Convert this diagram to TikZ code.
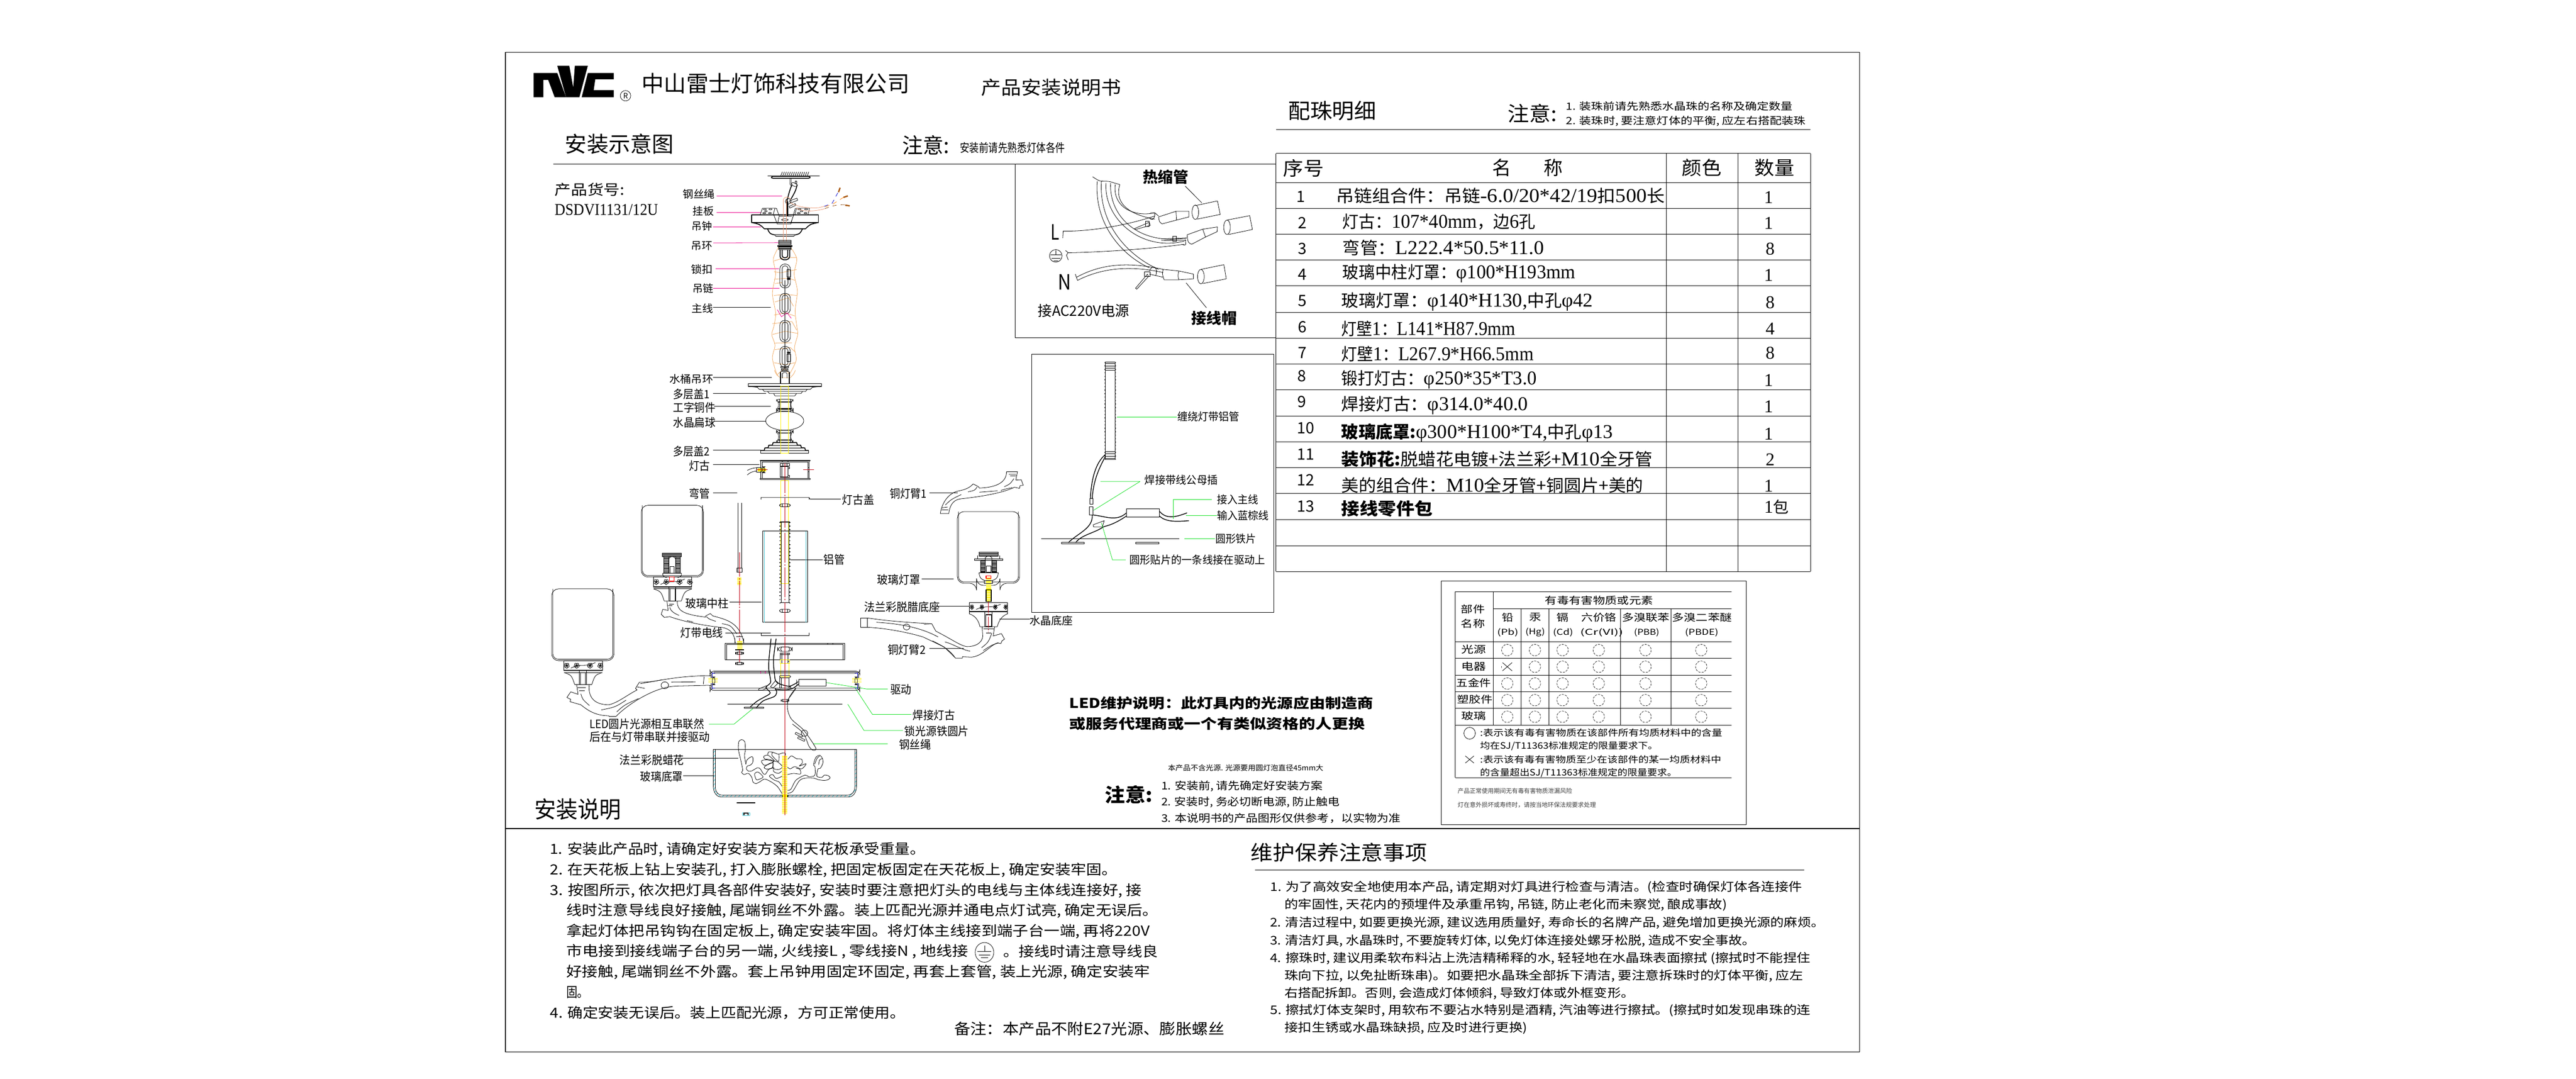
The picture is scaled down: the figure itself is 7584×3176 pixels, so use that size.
\documentclass[tikz,border=0pt]{standalone}
\usepackage{fontspec}
\usepackage{graphicx}
\usetikzlibrary{patterns}
\setmainfont{Noto Sans CJK SC}
\newfontfamily\ser[Scale=1.15]{Liberation Serif}
\definecolor{orgl}{HTML}{F0A860}
\definecolor{salm}{HTML}{EE9C78}
\definecolor{axisr}{HTML}{C00010}
\definecolor{grn}{HTML}{10E020}
\definecolor{hatchc}{HTML}{40C8D8}
\definecolor{brn}{HTML}{A85810}
\newlength\twd
\newcommand\tb[7][]{%
 \pgfmathsetlength\twd{((#4)-(#3))*\sx*0.25}%
 \pgfmathsetmacro\fsz{#6*0.25}%
 \node[txt,#1] (#2) at (#3,#5) {\resizebox{\twd}{\height}{\fontsize{\fsz pt}{\fsz pt}\selectfont #7}};}
\newcommand\tc[5]{%
 \pgfmathsetmacro\fsz{#4*0.25}%
 \node[txt,anchor=center] (#1) at (#2,#3) {\fontsize{\fsz pt}{\fsz pt}\selectfont #5};}
\newcommand\srf[1]{{\ser #1}}
\newcommand\stripes[5]{% x1 y1 x2 y2 step
 \fill[yellow] (#1,#2) rectangle (#3,#4);
 \pgfmathsetmacro\ysec{#2+#5}\pgfmathsetmacro\ysecb{#2+2*#5}
 \foreach \yy in {\ysec,\ysecb,...,#4} {\draw[white,line width=.2pt] (#1,\yy) -- (#3,\yy);}
}
\newcommand\nutz[4]{%
 \draw[rounded corners=1.5pt] (#1,#2) rectangle (#3,#4);
 \pgfmathsetmacro\xa{#1+(#3-#1)*.25}\pgfmathsetmacro\xb{#1+(#3-#1)*.75}
 \draw (\xa,#2) -- (\xa,#4) (\xb,#2) -- (\xb,#4);
}
\newcommand\hatchbox[5]{% horizontal hatching x1 y1 x2 y2 step
 \draw (#1,#2) rectangle (#3,#4);
 \pgfmathsetmacro\ysec{#2+#5}\pgfmathsetmacro\ysecb{#2+2*#5}
 \foreach \yy in {\ysec,\ysecb,...,#4} {\draw (#1,\yy) -- (#3,\yy);}
}
\newcommand\blossom[3]{% x y r
 \begin{scope}[shift={(#1,#2)}]
 \foreach \a in {18,90,162,234,306} {\draw (\a:#3) circle (#3*.62);}
 \draw[fill=white] (0,0) circle (#3*.35);
 \end{scope}
}
\newcommand\band[4]{% x1 y1 x2 y2 flowers and vine
 \draw (#1,#2) rectangle (#3,#4);
 \pgfmathsetmacro\bw{#3-#1}\pgfmathsetmacro\bh{#4-#2}
 \pgfmathsetmacro\ym{#2+.5*\bh}\pgfmathsetmacro\rr{.17*\bh}
 \foreach \f in {.07,.33,.68,.95}{\pgfmathsetmacro\fx{#1+\f*\bw}\blossom{\fx}{\ym}{\rr}}
 \pgfmathsetmacro\xa{#1+.18*\bw}\pgfmathsetmacro\xb{#1+.5*\bw}\pgfmathsetmacro\xc{#1+.82*\bw}
 \pgfmathsetmacro\ya{#2+.2*\bh}\pgfmathsetmacro\yb{#2+.75*\bh}
 \draw (\xa,\yb) .. controls (\xb,\ya) and (\xb,\yb) .. (\xc,\ya);
}
\tikzset{
 txt/.style={anchor=west,inner sep=0pt,outer sep=0pt},
 bd/.style={line width=.65pt},
 frm/.style={line width=.4pt},
 org/.style={orgl,line width=.3pt},
 sal/.style={salm,line width=.3pt},
 yl/.style={yellow,line width=.3pt},
 gr/.style={grn,line width=.3pt},
 mg/.style={magenta,line width=.3pt},
 lead/.style={black,line width=.3pt},
 rd/.style={axisr,line width=.3pt},
 rddash/.style={axisr,line width=.3pt,dash pattern=on 22pt off 1.2pt on 1.2pt off 1.2pt},
 dcirc/.style={line width=.25pt,dash pattern=on 1.6pt off .8pt},
}
\begin{document}
\begin{tikzpicture}[x=0.25pt,y=-0.25pt,line width=.3pt,line join=round]
\useasboundingbox (0,0) rectangle (7584,3176);
\fill[white] (0,0) rectangle (7584,3176);
% outer frame
\draw[frm] (1488,154) rectangle (5475,3097);
\draw[frm] (1488,2439) -- (5475,2439);
\draw (1629,483) -- (3756,483);

%==== zoom 1 ====
\begin{scope}[shift={(1480,130)},xscale=.9566,yscale=.6378]\def\sx{.9566}
 \fill (95,133)--(168,133)--(195,245)--(160,245)--(140,165)--(125,165)--(125,245)--(95,245)--cycle;
 \fill (168,100)--(205,100)--(217,200)--(222,100)--(262,100)--(236,245)--(195,245)--cycle;
 \fill (262,133)--(342,133)--(342,162)--(285,162)--(280,212)--(342,212)--(342,245)--(243,245)--cycle;
 \draw (378,238) ellipse (16 and 24);
 \tc{regm}{378}{238}{22}{R}
 \tb{co}{428}{1252}{182}{66}{中山雷士灯饰科技有限公司}
 \tb{ptit}{1473}{1904}{200}{55}{产品安装说明书}
 \tb{st1}{192}{527}{460}{64}{安装示意图}
 \tb{st2}{1230}{1375}{465}{62}{注意:}
 \tb{st3}{1407}{1731}{478}{35}{\mbox{安装前请先熟悉灯体各件}}
 \tb{pn1}{160}{375}{672}{42}{产品货号:}
 \tb{pn2}{160}{478}{765}{42}{\srf{DSDVI1131/12U}}
 \tb{a1}{555}{653}{692}{31}{钢丝绳}
 \tb{a2}{585}{650}{770}{31}{挂板}
 \tb{a3}{582}{645}{840}{31}{吊钟}
 \tb{a4}{580}{645}{932}{31}{吊环}
 \tb{a5}{580}{647}{1040}{31}{锁扣}
 \tb{a6}{584}{648}{1127}{31}{吊链}
 \tb{a7}{582}{648}{1220}{31}{主线}
 \tb{a8}{513}{648}{1545}{31}{水桶吊环}
 \draw[mg] (658,700) -- (860,700);
 \draw[mg] (658,778) -- (795,778);
 \draw[mg] (648,843) -- (795,843);
 \draw[mg] (648,917) -- (848,916);
 \draw[mg] (655,1035) -- (850,1035);
 \draw[mg] (648,1126) -- (852,1126);
 \draw[lead] (648,1215) -- (825,1215);
 \draw[lead] (648,1538) -- (828,1538);
 % crystal strand
 \draw[org] plot[smooth] coordinates {(850,935) (833,990) (840,1060) (830,1150) (840,1240) (835,1300) (828,1340) (838,1390) (830,1450) (845,1530)};
 \draw[org] plot[smooth] coordinates {(885,935) (905,990) (897,1060) (907,1140) (900,1230) (905,1300) (908,1340) (898,1400) (903,1460) (880,1530)};
 \draw[org] (835,1000)--(870,985)--(905,985) (835,1050)--(855,1055)--(905,1040) (835,1085)--(880,1080)--(900,1090)
  (838,1105)--(860,1100) (835,1160)--(870,1155)--(905,1160) (838,1190)--(880,1170)--(895,1210)
  (835,1250)--(870,1240)--(900,1255) (830,1290)--(890,1280)--(905,1320) (830,1340)--(870,1325)--(908,1335)
  (835,1380)--(890,1378) (838,1410)--(885,1400)--(900,1420) (835,1470)--(870,1480)--(900,1470)
  (845,1525)--(868,1495)--(885,1530);
 % chain
 \foreach \ya/\yb in {1015/1125,1150/1245,1275/1375,1395/1490}{
  \draw[rounded corners=3.5pt] (853,\ya) rectangle (885,\yb);
  \draw[rounded corners=2pt] (860,\ya+8) rectangle (878,\yb-8);
 }
 \draw (869,1090) -- (869,1500);
 \draw (875,1040) rectangle (885,1075) (875,1430) rectangle (885,1465);
 \fill (875,1078) rectangle (885,1088) (875,1420) rectangle (885,1428);
 \draw[mg] (845,1225)--(858,1258)--(875,1240)--(888,1265);
 \draw (855,1487) rectangle (880,1493) (858,1497) rectangle (878,1503);
\end{scope}

%==== ceiling fitting (zoom 11) ====
\begin{scope}[shift={(2200,500)},scale=.3333]
 \foreach \x in {310,328,...,545}{\draw (\x,18) -- (\x-14,52);}
 \draw (180,55) -- (640,55);
 \draw[bd,rounded corners=1pt] (214,58) rectangle (554,74);
 \draw (377,74)--(377,125)--(395,150) (388,74)--(388,122)--(398,135);
 \draw (425,100) rectangle (437,122);
 \draw[bd] (395,130) .. controls (375,180) .. (352,270);
 \draw[bd] (442,130) .. controls (425,190) .. (385,260);
 \draw[rotate around={-25:(415,130)}] (415,130) ellipse (28 and 14);
 \draw[bd] (352,270) -- (350,410) (358,280) -- (357,410);
 \draw (362,278) circle (25);
 \draw[rotate around={20:(400,275)}] (375,265) rectangle (445,285);
 \draw[rotate around={25:(395,320)}] (370,312) rectangle (430,328);
 \draw (135,338)--(245,338)--(228,398)--(113,398)--cycle;
 \draw (435,338)--(550,338)--(537,398)--(420,398)--cycle;
 \foreach \cx in {155,205}{\draw (\cx,348) ellipse (14 and 5) (\cx-5,382) ellipse (14 and 5);}
 \foreach \cx in {460,520}{\draw (\cx,348) ellipse (14 and 5) (\cx-5,382) ellipse (14 and 5);}
 \draw (165,365) ellipse (12 and 5) (480,365) ellipse (12 and 5);
 \draw[bd] (38,397) rectangle (628,465);
 \draw (245,338)--(258,340)--(282,408)--(270,465) (235,400)--(265,478)--(385,478)--(425,338) (270,468)--(390,468) (410,398)--(385,468);
 \draw (282,408)--(395,408);
 \draw (332,441) ellipse (30 and 8);
 \draw[bd] (38,465) .. controls (110,480) .. (150,520) -- (515,520) .. controls (555,480) .. (628,465);
 \draw[bd] (180,523) .. controls (200,565) .. (245,575) (487,523) .. controls (465,565) .. (420,575);
 \draw (245,573)--(420,573)--(412,587)--(252,587)--cycle;
 \draw[sal] (319,632) -- (319,265) .. controls (325,235) and (365,230) .. (385,262);
 \draw[sal] (346,632) -- (346,265);
 \draw[sal] (380,290) .. controls (440,325) and (520,340) .. (630,335) -- (680,322);
 \draw[sal] (430,335) .. controls (470,365) and (560,375) .. (680,345);
 \draw[blue!80!black,dashed] (680,322) -- (750,295) -- (803,197);
 \draw[orange,dashed] (690,325) -- (760,300) -- (850,243);
 \draw[brn!80!black,dashed] (685,342) .. controls (780,310) .. (865,307);
 \draw[brn,line width=1pt] (806,197)--(820,158) (850,243)--(888,230) (865,312)--(905,318);
 \hatchbox{277}{622}{388}{660}{9}
 \fill (265,666) rectangle (400,682);
 \hatchbox{277}{682}{388}{705}{7}
 \draw[bd] (290,705) -- (290,765) .. controls (295,805) and (370,805) .. (375,765) -- (375,705);
 \draw[bd] (308,705) -- (308,755) .. controls (312,785) and (353,785) .. (358,755) -- (358,705);
\end{scope}

%==== lid stack and small hub (zoom 12) ====
\begin{scope}[shift={(2200,1090)},scale=.3333]
 \draw[org] (240,0) .. controls (255,35) .. (290,65) -- (380,65) .. controls (410,35) .. (425,0);
 \draw[bd] (295,15)--(295,115) (370,15)--(370,115);
 \draw (310,70)--(310,30) .. controls (315,15) and (347,15) .. (352,30) -- (352,70);
 \draw (295,10)--(370,10) (300,3)--(362,3);
 \draw[bd] (10,118) rectangle (655,142);
 \draw (40,145)--(90,150)--(105,168)--(558,168)--(575,150)--(625,145);
 \draw (135,168)--(150,187)--(515,187)--(530,168);
 \draw (180,187)--(195,205)--(475,205)--(488,187);
 \draw (233,205)--(245,226)--(420,226)--(435,205);
 % upper spool
 \draw[rounded corners=1.5pt] (260,256) rectangle (404,276);
 \draw (270,276) .. controls (280,305) .. (268,338) (392,276) .. controls (382,305) .. (395,338);
 \draw (270,282)--(392,282) (285,256)--(285,364) (380,256)--(380,364);
 \draw[bd] (268,339)--(395,339);
 \draw[rounded corners=2pt] (258,345) rectangle (405,360);
 \draw (331,446) ellipse (168 and 83);
 % lower spool
 \draw[rounded corners=2pt] (258,531) rectangle (405,552);
 \draw[bd] (268,555)--(392,555);
 \draw (270,558) .. controls (282,590) .. (268,618) (392,558) .. controls (380,590) .. (395,618);
 \draw (285,530)--(285,638) (380,530)--(380,638) (270,612)--(392,612);
 \draw[rounded corners=1.5pt] (260,618) rectangle (404,638);
 \draw[bd] (228,638)--(437,638) (228,638)--(222,660)--(190,662)--(185,683)--(155,686)--(150,708)--(120,708)
  (437,638)--(442,660)--(472,662)--(478,683)--(508,686)--(515,708)--(542,708);
 \draw (190,662)--(472,662) (155,685)--(508,685);
 \draw (120,708) rectangle (542,730);
 \draw[yl] (297,138) rectangle (365,730);
 % lamp hub
 \draw (113,794)--(553,794)--(553,800)--(113,800)--cycle;
 \draw (113,955)--(553,955)--(553,962)--(113,962)--cycle;
 \draw (118,800)--(118,955) (548,800)--(548,955);
 \draw (130,811) rectangle (536,955);
 \draw (307,800) rectangle (358,811);
 \draw (292,823) rectangle (373,846) (315,823)--(315,846) (350,823)--(350,846);
 \draw (292,850) rectangle (360,945);
 \draw[bd] (292,850)--(360,850) (292,943)--(360,943) (305,850)--(305,945);
 \draw (360,853) rectangle (373,868) (360,928) rectangle (373,945);
 \fill[yellow] (92,865) rectangle (165,893);
 \draw (82,857) rectangle (122,900);
 \draw[rounded corners=2pt] (135,852) rectangle (155,905);
 \draw[axisr,line width=.4pt] (78,877)--(180,877) (495,877)--(588,877);
 \draw (536,857)--(548,857) (536,897)--(548,897);
 \draw (82,860) .. controls (40,865) and (15,875) .. (0,885);
 \draw (82,890) .. controls (45,893) and (20,905) .. (0,925);
\end{scope}

%==== zoom 2: labels and centre parts ====
\begin{scope}[shift={(1480,1100)},xscale=.9566,yscale=.861]\def\sx{.9566}
 \tb{b1}{525}{638}{70}{34}{多层盖1}
 \tb{b2}{525}{655}{115}{34}{工字铜件}
 \tb{b3}{525}{655}{167}{34}{水晶扁球}
 \tb{b4}{525}{638}{265}{34}{多层盖2}
 \tb{b5}{573}{638}{315}{34}{灯古}
 \tb{b6}{573}{638}{410}{34}{弯管}
 \tb{b7}{1045}{1143}{432}{34}{灯古盖}
 \tb{b8}{988}{1053}{635}{34}{铝管}
 \tb{b9}{562}{695}{785}{34}{玻璃中柱}
 \tb{b10}{547}{678}{885}{34}{灯带电线}
 \tb{b11}{1192}{1305}{410}{34}{铜灯臂1}
 \tb{b12}{1152}{1285}{705}{34}{玻璃灯罩}
 \tb{b13}{1112}{1345}{797}{34}{法兰彩脱腊底座}
 \tb{b14}{1185}{1302}{943}{34}{铜灯臂2}
 \tb{b15}{1193}{1258}{1080}{34}{驱动}
 \tb{b16}{1262}{1392}{1168}{34}{焊接灯古}
 \tb{b17}{1237}{1435}{1222}{34}{锁光源铁圆片}
 \tb{b18}{1220}{1318}{1268}{34}{钢丝绳}
 \tb{b19}{267}{620}{1198}{34}{LED圆片光源相互串联然}
 \tb{b20}{267}{638}{1241}{34}{后在与灯带串联并接驱动}
 \tb{b21}{360}{558}{1320}{34}{法兰彩脱蜡花}
 \tb{b22}{423}{555}{1378}{34}{玻璃底罩}
 \tb{b23}{98}{365}{1490}{68}{安装说明}
 \draw[lead] (648,67)--(810,67) (650,112)--(825,112) (650,163)--(810,163) (648,261)--(795,261)
  (648,311)--(790,311) (648,408)--(722,408) (945,428)--(1040,428) (885,636)--(985,636)
  (698,780)--(797,780) (685,886)--(825,886) (1313,408)--(1400,408) (1290,701)--(1388,701)
  (1335,795)--(1437,795) (1313,940)--(1420,940) (530,1315)--(725,1315) (555,1374)--(650,1374);
 \draw[gr] (995,1056)--(1120,1078)--(1185,1078);
 \draw[gr] (1085,1075)--(1138,1165)--(1258,1165);
 \draw[gr] (1062,1130)--(1112,1220)--(1232,1220);
 \draw[gr] (955,1266)--(1185,1266);
 \draw[gr] (770,1145)--(712,1198)--(635,1198);
 % arm 2 left part of the right lamp
 \draw (1102,835)--(1102,867)--(1122,867)--(1122,835)--(1102,835);
 \draw (1122,835) .. controls (1180,845) and (1240,850) .. (1320,855);
 \draw (1122,867) .. controls (1180,870) and (1250,885) .. (1296,901);
 \draw (1243,866) circle (10);
 \draw (1150,850) .. controls (1230,855) and (1290,870) .. (1340,900);
 % yellow tube and axis pieces
 \draw[yl] (856,365) rectangle (880,718);
 % lid
 \draw (795,430)--(795,423)--(943,423)--(943,430) (943,423)--(945,428);
 \nutz{852}{445}{885}{455}
 % glass column
 \draw (800,538) rectangle (938,850);
 \draw[hatchc] (805,538)--(805,850) (934,538)--(934,850);
 \draw[line width=.4pt] (857,507)--(857,783) (881,507)--(881,783) (854,507)--(884,507) (854,783)--(884,783);
 \draw[line width=.7pt,dotted] (854,507)--(854,783) (884,507)--(884,783);
 \nutz{852}{805}{885}{816}
 \draw (795,885)--(795,896)--(943,896)--(943,885);
\end{scope}

%==== bent tube, left lamps (zoom 9) ====
\begin{scope}[shift={(1600,1480)},scale=.4592]
 % bent tube lower part
 \draw (1246,0)--(1246,420) (1270,0)--(1270,420);
 \draw (1240,420) rectangle (1274,445) (1246,420)--(1246,445);
 \stripes{1244}{480}{1270}{528}{8}
 \draw[axisr,line width=.3pt,dash pattern=on 18pt off 1pt on 1pt off 1pt] (1258,318)--(1258,1020);
 \foreach \dx/\dy in {0/0,574/-536}{
 \begin{scope}[shift={(\dx,\dy)}]
  \draw[rounded corners=5pt] (53,552)--(452,552)--(452,1012)--(53,1012)--cycle;
  \draw[rounded corners=4pt] (60,552)--(60,1003)--(445,1003)--(445,552);
  \band{132}{1012}{377}{1075}
  \draw (132,1088)--(377,1088);
  \draw[bd] (132,1075)--(377,1075);
  \draw (132,1088) .. controls (180,1105) .. (200,1165) -- (310,1165) .. controls (330,1105) .. (377,1088);
  \draw (230,1075) rectangle (275,1165) (236,1088) rectangle (270,1165);
 \end{scope}}
 % socket of upper lamp
 \hatchbox{763}{322}{885}{345}{5}
 \hatchbox{770}{345}{803}{450}{6}
 \hatchbox{847}{345}{878}{450}{6}
 \draw (803,450)--(803,360) .. controls (815,340) and (835,340) .. (847,360) -- (847,450);
 \draw (812,410) rectangle (838,450);
 \draw (765,452) .. controls (765,470) .. (790,480) (885,452) .. controls (885,470) .. (860,480) (765,452)--(885,452);
 \draw[red,line width=.5pt] (808,475) rectangle (838,503);
 % arm of upper lamp
 \draw (858,632) .. controls (858,690) and (890,715) .. (1040,733) -- (1040,725) -- (1070,710) -- (1085,725) .. controls (1180,750) and (1260,770) .. (1285,900);
 \draw (792,632)--(795,660)--(800,690)--(765,683)--(755,715)--(775,735)--(810,730) .. controls (880,755) and (1000,785) .. (1150,800) .. controls (1200,810) and (1225,840) .. (1230,900);
 \draw (810,670) .. controls (815,695) and (840,710) .. (870,722);
 \draw (920,755)--(960,765);
 \draw (1045,730) .. controls (1060,745) .. (1105,760);
 \draw (1145,775) .. controls (1200,785) .. (1240,840);
 \draw (1235,858)--(1280,858) (805,650)--(835,650) (800,660)--(825,660);
 \stripes{1241}{885}{1274}{945}{7}
 \draw[bd] (1230,942)--(1284,942);
 \nutz{1231}{957}{1283}{972}
 \nutz{1231}{1023}{1283}{1038}
 % arm of lower lamp
 \draw (293,1168) .. controls (285,1260) and (340,1295) .. (420,1295) .. controls (480,1280) and (540,1230) .. (600,1200) -- (590,1190) -- (615,1150) .. controls (720,1155) and (800,1112) .. (1060,1108) -- (1075,1108);
 \draw (213,1168)--(222,1228)--(175,1212)--(150,1248)--(175,1260)--(170,1275)--(240,1295) .. controls (300,1345) and (350,1365) .. (420,1365) -- (420,1370) -- (465,1370) .. controls (520,1310) and (700,1180) .. (850,1175) -- (1060,1170);
 \draw (240,1225) .. controls (250,1260) .. (295,1300);
 \draw (218,1185)--(270,1185) (228,1205)--(265,1205);
 \draw (370,1328) .. controls (460,1310) .. (530,1265);
 \draw (470,1340) .. controls (520,1295) .. (610,1255);
 \draw (778,1170) ellipse (24 and 22);
 \draw (820,1150)--(975,1148) (600,1180)--(650,1190) (1030,1115)--(1025,1165) (620,1160)--(760,1135);
 \draw (1060,1108)--(1075,1108)--(1075,1170)--(1060,1170);
\end{scope}

%==== centre column lower part (zoom 10) ====
\begin{scope}[shift={(2080,1880)},scale=.3333]
 \draw (250,0)--(250,40) (328,0)--(328,40);
 \draw (166,41) rectangle (1220,187);
 \draw (178,187)--(178,52)--(1208,52)--(1208,187);
 \draw (1072,41) rectangle (1117,52);
 \draw[rounded corners=3pt] (628,73) rectangle (757,112);
 \draw (665,73)--(655,92)--(665,112) (725,73)--(735,92)--(725,112);
 \draw (653,125) rectangle (733,140) (653,140) rectangle (720,217) (720,200) rectangle (733,217);
 \draw[bd] (665,125)--(665,217) (720,125)--(720,217);
 \draw[yl] (653,187) rectangle (733,217);
 \draw[yl] (655,218)--(655,335)--(730,335)--(730,218);
 \nutz{256}{118}{326}{138}
 \nutz{256}{209}{326}{229}
 \draw[axisr] (292,138)--(292,209);
 % ring
 \draw[rounded corners=3pt] (30,287) rectangle (1355,307);
 \draw (64,295)--(1333,295);
 \draw[rounded corners=3pt] (30,436) rectangle (1355,457);
 \draw (40,307)--(40,436) (1345,307)--(1345,436);
 \draw[blue!70!black,line width=.4pt] (52,300)--(52,445) (52,305)--(75,305) (52,438)--(75,438)
   (1333,300)--(1333,445) (1310,305)--(1333,305) (1310,438)--(1333,438);
 \draw[magenta] (477,288)--(477,308) (518,288)--(518,308);
 \stripes{15}{348}{100}{395}{6}
 \stripes{1285}{348}{1370}{395}{6}
 \draw[rounded corners=2pt] (52,338) rectangle (75,407) (1310,338) rectangle (1333,407);
 \draw[rounded corners=1pt] (645,325) rectangle (742,345);
 \draw (645,345) rectangle (730,436) (660,345)--(660,436) (730,422) rectangle (742,436);
 \draw (814,358) rectangle (1055,418);
 % clips
 \draw (460,445)--(530,415)--(530,440)--(495,455)--(460,455)--cycle;
 \draw (565,425)--(610,370)--(635,390)--(590,435)--cycle;
 % wires
 \draw[line width=.55pt] plot[smooth] coordinates {(570,0) (552,180) (550,270) (562,340) (565,390) (525,430) (555,465) (555,490) (450,550) (385,605)};
 \draw[line width=.55pt] plot[smooth] coordinates {(615,0) (592,180) (600,310) (620,385) (730,420) (810,380)};
 \draw[line width=.55pt] plot[smooth] coordinates {(605,440) (620,470) (600,510) (500,550) (440,610)};
 \draw[line width=.55pt] plot[smooth] coordinates {(605,445) (690,452) (760,440) (815,400)};
 \draw (795,362)--(800,420);
 \draw plot[smooth] coordinates {(790,440) (740,510) (720,540) (715,620) (750,710) (860,810) (965,965) (940,985) (905,950) (870,860) (830,810) (760,755)};
 \draw plot[smooth] coordinates {(785,440) (735,510) (715,570)};
 \draw (865,835) circle (28);
 \draw[rotate around={-25:(815,848)}] (783,840) rectangle (850,856);
 \draw[rotate around={-25:(835,885)}] (805,877) rectangle (870,893);
 \nutz{658}{536}{728}{556}
 \draw[line width=.7pt] (185,578)--(1200,578);
 \draw (333,606) rectangle (506,614);
 % bowl
 \path[pattern=north east lines,pattern color=hatchc]
   (60,976)--(60,1300) .. controls (60,1360) and (90,1398) .. (130,1398)--(1255,1398) .. controls (1295,1398) and (1325,1360) .. (1325,1300)--(1325,976)--(1310,976)--(1310,1310) .. controls (1310,1350) and (1285,1382) .. (1245,1382)--(140,1382) .. controls (100,1382) and (78,1350) .. (78,1310)--(78,976)--cycle;
 \draw (60,976)--(1325,976);
 \draw (60,976)--(60,1300) .. controls (60,1360) and (90,1398) .. (130,1398)--(1255,1398) .. controls (1295,1398) and (1325,1360) .. (1325,1300)--(1325,976);
 \draw (78,976)--(78,1310) .. controls (78,1350) and (100,1382) .. (140,1382)--(1245,1382) .. controls (1285,1382) and (1310,1350) .. (1310,1310)--(1310,976);
 % flower
 \draw plot[smooth] coordinates {(348,1110) (335,1030) (343,990) (338,910) (310,892) (285,910) (282,980) (300,1060) (315,1130) (320,1165) (310,1180) (330,1200) (370,1190) (400,1225) (410,1265) (435,1280) (470,1265) (515,1240) (580,1270) (630,1310) (668,1370)};
 \draw plot[smooth] coordinates {(348,1110) (355,1075) (385,1048) (408,1045) (408,1095) (385,1118) (360,1125) (352,1150) (370,1170) (400,1168) (450,1140) (475,1150) (500,1190) (520,1198) (550,1155) (600,1140)};
 \draw plot[smooth cycle] coordinates {(505,1040) (545,1030) (600,1080) (560,1068) (515,1062)};
 \draw plot[smooth cycle] coordinates {(485,1080) (530,1070) (590,1085) (560,1105) (510,1118)};
 \draw plot[smooth cycle] coordinates {(510,1135) (560,1100) (590,1100) (580,1140) (530,1152)};
 \draw plot[smooth cycle] coordinates {(590,1145) (640,1155) (670,1130) (630,1090) (590,1085)};
 \draw plot[smooth] coordinates {(590,1150) (595,1175) (635,1190) (665,1170)};
 \draw plot[smooth] coordinates {(540,1025) (550,1000) (585,1003) (635,1020) (670,1010) (695,1010) (698,1030)};
 \draw plot[smooth] coordinates {(585,1005) (578,1030) (635,1085) (640,1020)};
 \draw plot[smooth] coordinates {(720,1065) (750,1035) (795,1060) (840,1065) (845,1100) (820,1125) (880,1105) (840,1150) (780,1130) (740,1150) (715,1135)};
 \draw plot[smooth] coordinates {(715,1200) (770,1190) (830,1195) (825,1155) (790,1145)};
 \draw plot[smooth] coordinates {(668,1215) (615,1235) (585,1200) (555,1215) (600,1250) (640,1265) (668,1305)};
 \draw plot[smooth cycle] coordinates {(425,1195) (455,1178) (500,1220) (470,1240) (440,1245)};
 \draw plot[smooth] coordinates {(715,1340) (745,1330) (790,1250) (870,1205) (900,1218) (945,1215) (960,1195) (958,1130) (945,1115) (965,1050) (1000,1030) (1025,1060) (1028,1100) (1005,1145) (985,1150) (975,1215) (1020,1225) (1040,1205) (1075,1210) (1092,1228) (1075,1245) (1040,1252) (985,1245) (950,1232) (870,1232) (820,1255) (760,1350) (716,1365)};
 \draw plot[smooth] coordinates {(955,1110) (975,1060) (1000,1035)};
 \draw plot[smooth] coordinates {(990,1115) (1000,1070) (1025,1060)};
 % long screw
 \stripes{668}{1035}{714}{1545}{12}
 \fill[yellow] (668,1382) rectangle (716,1398);
 \draw[bd] (670,1382)--(670,1398) (716,1382)--(716,1398);
 \draw[axisr,line width=.35pt] (691,0)--(691,1560);
 \draw[line width=.8pt] (265,1451)--(433,1451);
 \draw[hatchc] (318,1540) rectangle (382,1560);
 \draw[bd] (332,1560)--(332,1540)--(368,1540)--(368,1560);
\end{scope}
\draw[rddash] (2310.5,1363)--(2310.5,1880);

%==== right lamp (zoom 8) ====
\begin{scope}[shift={(2720,1360)},xscale=.3333,yscale=.408]
 \draw (730,70)--(827,70)--(812,130)--(860,128)--(878,168)--(850,170)--(845,190)--(800,182) .. controls (680,230) and (450,255) .. (330,265) .. controls (270,270) and (230,300) .. (220,372)--(145,372) .. controls (160,290) and (220,225) .. (300,210) .. controls (360,200) and (400,190) .. (435,158)--(482,178)--(490,188) .. controls (580,185) and (730,170) .. (730,70);
 \draw (710,178) .. controls (760,160) .. (795,120);
 \draw (680,205) .. controls (720,195) .. (780,185);
 \draw (490,218)--(650,208);
 \draw (390,215) .. controls (450,205) .. (470,180);
 \draw (190,310) .. controls (240,270) .. (330,235);
 \draw (750,88)--(815,88) (762,100)--(815,100) (158,345)--(215,345) (160,330)--(210,325);
 \draw[rounded corners=5pt] (295,358)--(845,358)--(845,875)--(672,875)--(672,890)--(465,890)--(465,875)--(295,875)--cycle;
 \draw[rounded corners=4pt] (305,358)--(305,865)--(835,865)--(835,358);
 \stripes{550}{835}{595}{918}{12}
 \stripes{548}{922}{596}{1007}{12}
 \draw[bd] (548,922) rectangle (596,1007);
 \draw[red,line width=.5pt] (550,822) rectangle (592,840);
 \hatchbox{487}{650}{657}{680}{6}
 \draw (445,698) rectangle (697,708);
 \draw (475,698)--(475,675) (668,698)--(668,675);
 \hatchbox{499}{708}{542}{795}{6}
 \hatchbox{600}{708}{642}{795}{6}
 \draw (542,795)--(542,690) .. controls (560,675) and (585,675) .. (600,690)--(600,795);
 \draw (553,750) rectangle (590,795);
 \draw (487,797)--(657,797);
 \draw (487,797) .. controls (490,835) and (510,850) .. (540,855)--(600,855) .. controls (635,850) and (655,835) .. (657,797);
 \draw (535,855) rectangle (608,875);
 \band{400}{1013}{740}{1080}
 \draw[bd] (400,1080)--(740,1080);
 \draw (400,1095) .. controls (460,1110) and (485,1150) .. (495,1188)--(648,1188) .. controls (660,1150) and (685,1110) .. (740,1095);
 \draw (400,1080)--(400,1095) (740,1080)--(740,1095);
 \draw (538,1080) rectangle (602,1188);
 \draw[bd] (547,1103) rectangle (597,1188);
 \draw[axisr,dash pattern=on 8pt off 1pt on 1pt off 1pt] (571,1007)--(571,1228);
 % arm 2
 \draw (515,1188)--(520,1260) .. controls (510,1310) and (450,1332) .. (380,1332) .. controls (320,1325) and (250,1280) .. (105,1220)--(70,1167)--(0,1170);
 \draw (625,1188)--(612,1255)--(685,1238)--(712,1278)--(690,1290)--(680,1310)--(650,1305) .. controls (590,1320) and (520,1400) .. (420,1408)--(340,1405)--(340,1415)--(280,1415)--(180,1335)--(0,1265);
 \draw (510,1340) .. controls (570,1300) .. (600,1235);
 \draw (185,1298) .. controls (250,1310) and (320,1350) .. (408,1365);
 \draw (525,1360) .. controls (600,1320) .. (660,1305);
 \draw (75,1290) .. controls (150,1320) and (220,1350) .. (270,1405);
 \draw (528,1205)--(620,1205) (550,1232)--(595,1232);
\end{scope}

%==== wiring boxes (zoom 3) ====
\begin{scope}[shift={(2950,400)},xscale=.5421,yscale=.9247]\def\sx{.5421}
 \draw (71,90) rectangle (1488,643);
 \tb{c1}{765}{1012}{130}{44}{\bfseries 热缩管}
 \tb{c2}{1028}{1275}{580}{44}{\bfseries 接线帽}
 \tb{c3}{195}{692}{557}{42}{接AC220V电源}
 \tb{c4}{265}{312}{307}{62}{L}
 \tb{c5}{305}{377}{465}{62}{N}
 \draw[lead] (995,160)--(1085,213) (1000,468)--(1110,547);
 \draw (292,382) ellipse (34 and 20);
 \draw (292,365)--(292,378) (262,378)--(322,378) (268,390)--(316,390) (280,398)--(304,398);
 \draw plot[smooth] coordinates {(492,130) (530,143) (580,145) (610,150) (640,155)};
 \draw (517,145) .. controls (500,280) and (650,380) .. (800,420);
 \draw (540,145) .. controls (525,280) and (680,380) .. (850,425);
 \draw (565,150) .. controls (550,260) and (750,370) .. (990,335);
 \draw (590,150) .. controls (580,260) and (750,350) .. (1005,325);
 \draw (615,155) .. controls (600,220) and (700,260) .. (830,245);
 \draw (640,155) .. controls (610,210) and (680,250) .. (830,265);
 \draw (330,325)--(332,303) .. controls (450,305) and (650,290) .. (830,255);
 \draw (345,365)--(360,372) .. controls (550,370) and (800,360) .. (990,345);
 \draw (360,395)--(350,380)--(358,372);
 \draw (398,440)--(410,460) .. controls (560,415) and (720,415) .. (875,435);
 \draw (405,450) .. controls (560,400) and (720,405) .. (875,425);
 \draw (850,258)--(945,240)--(948,268)--(870,280) .. controls (855,275) .. (850,258);
 \draw (945,240)--(1015,240)--(1015,258)--(948,268);
 \draw (830,245) .. controls (830,270) and (810,270) .. (800,260) (805,245)--(830,245)--(850,255);
 \draw (720,295)--(800,275)--(805,285)--(725,298)--cycle;
 \draw (780,272) rectangle (800,288);
 \draw (1005,315)--(1090,297)--(1170,290)--(1168,305)--(1105,322)--(1030,345) .. controls (1010,340) .. (1005,315);
 \draw (1090,297) .. controls (1100,310) .. (1105,322);
 \draw (865,328)--(1000,325) (865,333)--(1000,332);
 \draw (928,320) rectangle (948,336);
 \draw (975,345) .. controls (1000,350) .. (995,330);
 \draw (875,425)--(960,430)--(1040,440)--(1040,455)--(960,458)--(880,458) .. controls (870,440) .. (875,425);
 \draw (960,430) .. controls (955,445) .. (960,458);
 \draw (725,485)--(790,440)--(795,448)--(732,488)--cycle;
 \draw (775,432) rectangle (805,448);
 \draw (800,430) .. controls (820,405) and (850,420) .. (835,445) (800,440)--(875,450);
 \draw (1050,222)--(1170,207)--(1185,250)--(1060,265) (1050,243) ellipse (18 and 23);
 \draw (1222,268)--(1345,254)--(1360,298)--(1230,314) (1222,291) ellipse (18 and 23);
 \draw (1080,425)--(1205,410)--(1218,455)--(1090,470) (1080,448) ellipse (18 and 23);
 % second box
 \draw (160,695) rectangle (1475,1517);
 \draw (560,720) rectangle (615,1030);
 \draw[line width=.55pt,dotted] (558,720)--(558,1030) (617,720)--(617,1030);
 \foreach \yy in {725,732,739,746}{\draw (560,\yy)--(615,\yy);}
 \foreach \yy in {1005,1012,1019,1026}{\draw (560,\yy)--(615,\yy);}
 \draw[line width=.55pt] (560,1015) .. controls (510,1040) and (485,1090) .. (480,1155);
 \draw[line width=.55pt] (560,1022) .. controls (525,1060) and (495,1100) .. (490,1155);
 \draw (478,1155) rectangle (493,1172);
 \draw (475,1180) rectangle (495,1207);
 \draw (676,1187) rectangle (855,1213);
 \draw[line width=.55pt] (855,1195) .. controls (890,1220) and (940,1215) .. (1005,1200);
 \draw[line width=.55pt] (855,1210) .. controls (890,1230) and (950,1228) .. (1015,1225);
 \draw[line width=.55pt] (676,1200) .. controls (620,1230) and (560,1210) .. (495,1207);
 \draw[line width=.55pt] (676,1210) .. controls (600,1240) and (570,1240) .. (550,1245) .. controls (500,1265) and (430,1270) .. (400,1295);
 \draw[line width=.55pt] (490,1207) .. controls (495,1250) and (410,1265) .. (360,1295);
 \draw (495,1238)--(555,1225)--(545,1245)--(498,1245)--cycle;
 \draw[line width=.55pt] (212,1282)--(962,1282);
 \draw (324,1293) rectangle (447,1299) (726,1293) rectangle (852,1299);
 \tb{d1}{952}{1290}{893}{32}{缠绕灯带铝管}
 \tb{d2}{775}{1172}{1095}{32}{焊接带线公母插}
 \tb{d3}{1168}{1392}{1158}{32}{接入主线}
 \tb{d4}{1168}{1450}{1209}{32}{输入蓝棕线}
 \tb{d5}{1160}{1380}{1282}{32}{圆形铁片}
 \tb{d6}{692}{1430}{1350}{32}{圆形贴片的一条线接在驱动上}
 \tb{d7}{150}{385}{1543}{32}{水晶底座}
 \draw[gr] (950,895)--(625,895);
 \draw[gr] (750,1100)--(535,1100) (750,1100)--(497,1192);
 \draw[gr] (1140,1158)--(930,1158)--(930,1220);
 \draw[gr] (1168,1209)--(1000,1209);
 \draw[gr] (1155,1283)--(990,1283);
 \draw[gr] (672,1350)--(600,1350)--(540,1232);
 \draw[lead] (150,1538)--(-15,1538);
\end{scope}

%==== parts table (zoom 4) ====
\begin{scope}[shift={(3700,260)},xscale=1.0842,yscale=.9247]\def\sx{1.0842}
 \tb{e1}{85}{325}{72}{62}{配珠明细}
 \draw (52,132)--(1504,132);
 \tb{e2}{682}{815}{80}{60}{注意:}
 \tb{e3}{840}{1455}{57}{29.5}{1. 装珠前请先熟悉水晶珠的名称及确定数量}
 \tb{e4}{840}{1490}{105}{29.5}{2. 装珠时, 要注意灯体的平衡, 应左右搭配装珠}
 \foreach \yy in {207,300,382,464,547,629,713,795,877,960,1043,1125,1208,1290,1373,1456,1538}{\draw (52,\yy)--(1504,\yy);}
 \draw (52,207)--(52,1538) (1112,207)--(1112,1538) (1307,207)--(1307,1538) (1504,207)--(1504,1538);
 \tb{h1}{72}{182}{255}{56}{序号}
 \tc{h2a}{665}{252}{56}{名}
 \tc{h2b}{805}{252}{56}{称}
 \tb{h3}{1155}{1262}{252}{56}{颜色}
 \tb{h4}{1352}{1460}{252}{56}{数量}
 \tb{r1}{215}{1108}{342}{50}{吊链组合件：吊链\srf{-6.0/20*42/19}扣\srf{500}长}
 \tb{r2}{233}{757}{425}{50}{灯古：\srf{107*40mm}，边\srf{6}孔}
 \tb{r3}{233}{780}{508}{50}{弯管：\srf{L222.4*50.5*11.0}}
 \tb{r4}{233}{865}{590}{50}{玻璃中柱灯罩：\srf{φ100*H193mm}}
 \tb{r5}{230}{913}{680}{50}{玻璃灯罩：\srf{φ140*H130,}中孔\srf{φ42}}
 \tb{r6}{230}{702}{765}{50}{灯壁\srf{1}：\srf{L141*H87.9mm}}
 \tb{r7}{230}{752}{846}{50}{灯壁\srf{1}：\srf{L267.9*H66.5mm}}
 \tb{r8}{230}{760}{927}{50}{锻打灯古：\srf{φ250*35*T3.0}}
 \tb{r9}{230}{737}{1010}{50}{焊接灯古：\srf{φ314.0*40.0}}
 \tb{r10}{230}{967}{1098}{50}{{\bfseries 玻璃底罩:}\srf{φ300*H100*T4,}中孔\srf{φ13}}
 \tb{r11}{230}{1075}{1180}{50}{{\bfseries 装饰花:}脱蜡花电镀+法兰彩+\srf{M10}全牙管}
 \tb{r12}{230}{1050}{1263}{50}{美的组合件：\srf{M10}全牙管+铜圆片+美的}
 \tb{r13}{230}{478}{1338}{50}{\bfseries 接线零件包}
 \foreach \nn/\xx/\yy in {1/120/345,2/124/428,3/124/510,4/124/593,5/124/676,6/124/760,7/124/842,8/122/915,9/122/998,10/133/1082,11/133/1165,12/133/1247,13/133/1330}{
  \tc{n\nn}{\xx}{\yy}{46}{\nn}}
 \foreach \nn/\vv/\xx/\yy in {1/1/1390/347,2/1/1390/429,3/8/1394/512,4/1/1390/595,5/8/1394/682,6/4/1394/765,7/8/1394/843,8/1/1390/930,9/1/1390/1013,10/1/1390/1100,11/2/1394/1182,12/1/1390/1265}{
  \tc{q\nn}{\xx}{\yy}{46}{\srf{\vv}}}
 \tb{q13}{1378}{1445}{1333}{46}{\srf{1}包}
\end{scope}

%==== hazard table and notes (zoom 5) ====
\begin{scope}[shift={(3050,1680)},xscale=1.403,yscale=.4847]\def\sx{1.403}
 \draw (850,62) rectangle (1490,1543);
 \draw (880,128)--(1460,128) (960,230)--(1460,230);
 \foreach \yy in {432,532,634,735,836,937}{\draw (880,\yy)--(1460,\yy);}
 \draw[line width=.45pt] (880,1257)--(1460,1257);
 \draw (880,128)--(880,1257) (960,128)--(960,937);
 \foreach \xx in {1018,1076,1227,1332}{\draw (\xx,230)--(\xx,937);}
 \tb{f1}{1068}{1295}{180}{29}{有毒有害物质或元素}
 \tb{f2}{892}{942}{232}{29}{部件}
 \tb{f3}{892}{942}{322}{29}{名称}
 \tb{f4}{978}{1002}{283}{29}{铅}
 \tb{f5}{1035}{1060}{283}{29}{汞}
 \tb{f6}{1093}{1118}{283}{29}{镉}
 \tb{f7}{1145}{1218}{283}{29}{六价铬}
 \tb{f8}{1230}{1330}{283}{29}{多溴联苯}
 \tb{f9}{1335}{1460}{283}{29}{多溴二苯醚}
 \tb{g4}{968}{1012}{375}{24}{(Pb)}
 \tb{g5}{1027}{1068}{375}{24}{(Hg)}
 \tb{g6}{1085}{1127}{375}{24}{(Cd)}
 \tb{g7}{1142}{1232}{375}{24}{(Cr(VI))}
 \tb{g8}{1255}{1308}{375}{24}{(PBB)}
 \tb{g9}{1362}{1432}{375}{24}{(PBDE)}
 \tb{j1}{893}{945}{478}{29}{光源}
 \tb{j2}{893}{945}{580}{29}{电器}
 \tb{j3}{882}{955}{682}{29}{五金件}
 \tb{j4}{884}{958}{782}{29}{塑胶件}
 \tb{j5}{893}{945}{882}{29}{玻璃}
 \foreach \xx in {989,1047,1105,1181,1279,1396}{
  \foreach \yy in {482,583,685,786,887}{
   \draw[dcirc] (\xx,\yy) ellipse (12 and 35);}}
 \fill[white] (977,545) rectangle (1001,620);
 \draw (979,558)--(999,608) (999,558)--(979,608);
 \draw (910,987) ellipse (12 and 36);
 \tb{k1}{932}{1440}{985}{26}{:表示该有毒有害物质在该部件所有均质材料中的含量}
 \tb{k2}{932}{1305}{1065}{26}{均在SJ/T11363标准规定的限量要求下。}
 \draw (901,1125)--(919,1168) (919,1125)--(901,1168);
 \tb{k3}{932}{1438}{1148}{26}{:表示该有毒有害物质至少在该部件的某一均质材料中}
 \tb{k4}{932}{1345}{1227}{26}{的含量超出SJ/T11363标准规定的限量要求。}
 \tb{k5}{885}{1125}{1338}{18}{\color{black!75}产品正常使用期间无有毒有害物质泄漏风险}
 \tb{k6}{885}{1175}{1422}{18}{\color{black!75}灯在意外损坏或寿终时，请按当地环保法规要求处理}
 \tb{m1}{70}{708}{805}{40}{\bfseries LED维护说明：此灯具内的光源应由制造商}
 \tb{m2}{70}{690}{930}{40}{\bfseries 或服务代理商或一个有类似资格的人更换}
 \tb{m3}{277}{603}{1197}{21}{本产品不含光源. 光源要用圆灯泡直径45mm大}
 \tb{m4}{145}{245}{1360}{56}{\bfseries 注意:}
 \tb{m5}{263}{602}{1310}{31}{1. 安装前, 请先确定好安装方案}
 \tb{m6}{263}{637}{1405}{31}{2. 安装时, 务必切断电源, 防止触电}
 \tb{m7}{263}{765}{1503}{31}{3. 本说明书的产品图形仅供参考，以实物为准}
\end{scope}

%==== installation text (zoom 6) ====
\begin{scope}[shift={(1500,2440)},xscale=1.371,yscale=.4337]\def\sx{1.371}
 \tb{p1}{87}{893}{141}{41}{1. 安装此产品时, 请确定好安装方案和天花板承受重量。}
 \tb{p2}{87}{1305}{280}{41}{2. 在天花板上钻上安装孔, 打入膨胀螺栓, 把固定板固定在天花板上, 确定安装牢固。}
 \tb{p3}{87}{1358}{418}{41}{3. 按图所示, 依次把灯具各部件安装好, 安装时要注意把灯头的电线与主体线连接好, 接}
 \tb{p4}{122}{1393}{556}{41}{线时注意导线良好接触, 尾端铜丝不外露。装上匹配光源并通电点灯试亮, 确定无误后。}
 \tb{p5}{122}{1375}{695}{41}{拿起灯体把吊钩钩在固定板上, 确定安装牢固。将灯体主线接到端子台一端, 再将220V}
 \tb{p6}{122}{985}{832}{41}{市电接到接线端子台的另一端, 火线接L , 零线接N , 地线接}
 \draw (1020,838) ellipse (20 and 67);
 \draw (1020,790)--(1020,832) (1005,832)--(1035,832) (1008,855)--(1032,855) (1012,875)--(1028,875);
 \tb{p7}{1060}{1393}{832}{41}{。接线时请注意导线良}
 \tb{p8}{122}{1375}{972}{41}{好接触, 尾端铜丝不外露。套上吊钟用固定环固定, 再套上套管, 装上光源, 确定安装牢}
 \tb{p9}{122}{170}{1108}{41}{固。}
 \tb{p10}{87}{850}{1247}{41}{4. 确定安装无误后。装上匹配光源，方可正常使用。}
 \tb{p11}{955}{1535}{1358}{44}{备注：本产品不附E27光源、膨胀螺丝}
\end{scope}

%==== maintenance text (zoom 7) ====
\begin{scope}[shift={(3600,2440)},xscale=1.2117,yscale=.4337]\def\sx{1.2117}
 \tb{u0}{68}{497}{160}{60}{维护保养注意事项}
 \draw (78,278)--(1413,278);
 \tb{u1}{115}{1408}{395}{35}{1. 为了高效安全地使用本产品, 请定期对灯具进行检查与清洁。(检查时确保灯体各连接件}
 \tb{u2}{150}{1225}{515}{35}{的牢固性, 天花内的预埋件及承重吊钩, 吊链, 防止老化而未察觉, 酿成事故)}
 \tb{u3}{115}{1462}{638}{35}{2. 清洁过程中, 如要更换光源, 建议选用质量好, 寿命长的名牌产品, 避免增加更换光源的麻烦。}
 \tb{u4}{115}{1295}{758}{35}{3. 清洁灯具, 水晶珠时, 不要旋转灯体, 以免灯体连接处螺牙松脱, 造成不安全事故。}
 \tb{u5}{115}{1428}{880}{35}{4. 擦珠时, 建议用柔软布料沾上洗洁精稀释的水, 轻轻地在水晶珠表面擦拭 (擦拭时不能捏住}
 \tb{u6}{150}{1410}{998}{35}{珠向下拉, 以免扯断珠串)。如要把水晶珠全部拆下清洁, 要注意拆珠时的灯体平衡, 应左}
 \tb{u7}{150}{1000}{1115}{35}{右搭配拆卸。否则, 会造成灯体倾斜, 导致灯体或外框变形。}
 \tb{u8}{115}{1428}{1232}{35}{5. 擦拭灯体支架时, 用软布不要沾水特别是酒精, 汽油等进行擦拭。(擦拭时如发现串珠的连}
 \tb{u9}{150}{740}{1350}{35}{接扣生锈或水晶珠缺损, 应及时进行更换)}
\end{scope}
\end{tikzpicture}
\end{document}
